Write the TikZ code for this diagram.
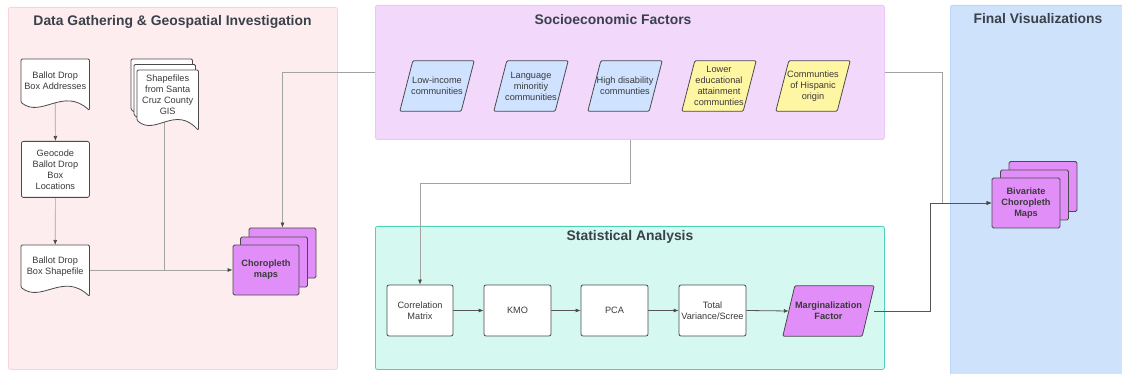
\documentclass[tikz,border=0pt]{standalone}
\usepackage{fontspec}
\setmainfont{Liberation Sans}
\usetikzlibrary{calc,arrows.meta}
\pgfdeclarelayer{bg}\pgfdeclarelayer{conn}\pgfdeclarelayer{mid}
\pgfsetlayers{bg,conn,mid,main}
\definecolor{pinkfill}{HTML}{FDEDEE}
\definecolor{pinkline}{HTML}{FAD2DC}
\definecolor{purfill}{HTML}{F2D8FB}
\definecolor{purline}{HTML}{EBC6F7}
\definecolor{tealfill}{HTML}{D5F8F0}
\definecolor{tealline}{HTML}{4CD2B9}
\definecolor{bluefill}{HTML}{CFE2FC}
\definecolor{blueline}{HTML}{BCD5F8}
\definecolor{parblue}{HTML}{CFE2FF}
\definecolor{paryel}{HTML}{FFF6A3}
\definecolor{cardc}{HTML}{E28EF8}
\definecolor{edgec}{HTML}{4A4A4A}
\definecolor{textc}{HTML}{3A3A3A}
\definecolor{titlec}{HTML}{3A414A}
\definecolor{lconn}{HTML}{A3A3A3}
\definecolor{dconn}{HTML}{555555}
\newcommand\mydoc[2]{\filldraw[docline] (#1.south west) -- (#1.north west) -- (#1.north east) -- ($(#1.south east)+(0,#2)$) .. controls ($(#1.south west)!0.62!(#1.south east)+(0,-16)$) and ($(#1.south west)!0.3!(#1.south east)+(0,16)$) .. (#1.south west) -- cycle;}
\newcommand\mypar[3]{\filldraw[docline, fill=#3] (#1.south west) -- ($(#1.north west)+(#2,0)$) -- (#1.north east) -- ($(#1.south east)+(-#2,0)$) -- cycle;}
\begin{document}
\begin{tikzpicture}[x=1pt,y=-1pt,
  panel/.style={rounded corners=2, line width=0.8, anchor=north west, inner sep=0},
  ptitle/.style={font=\fontsize{13.9}{16}\selectfont\bfseries, text=titlec, inner sep=0},
  txt/.style={font=\fontsize{9.2}{11}\selectfont, align=center, text=textc, inner sep=0},
  docline/.style={draw=edgec, fill=white, line width=0.8, rounded corners=1.2},
  box/.style={draw=edgec, fill=white, line width=0.8, rounded corners=2},
  card/.style={draw=edgec, fill=cardc, line width=0.8, rounded corners=1.5, inner sep=0},
  parnode/.style={txt, minimum width=74, minimum height=50},
  arr/.style={draw=lconn, line width=0.7, -{Latex[length=5,width=4,color=edgec]}},
  lline/.style={draw=lconn, line width=0.7},
  darr/.style={draw=dconn, line width=0.8, -{Latex[length=5,width=4,color=edgec]}}]
\useasboundingbox (0,0) rectangle (1122,374);
\clip (0,0) rectangle (1122,374);
% panels
\begin{pgfonlayer}{bg}
\node[panel, fill=pinkfill, draw=pinkline, minimum width=329, minimum height=362] (pdata) at (8,7) {};
\node[panel, fill=purfill, draw=purline, minimum width=509, minimum height=134] (socio) at (375,5) {};
\node[panel, fill=tealfill, draw=tealline, minimum width=509, minimum height=143] (stat) at (375,226) {};
\node[panel, fill=bluefill, draw=blueline, minimum width=220, minimum height=400] (final) at (950,5) {};
\end{pgfonlayer}
\node[ptitle] (tdata) at (172.5,22) {Data Gathering \& Geospatial Investigation};
\node[ptitle] (tsocio) at (613,20) {Socioeconomic Factors};
\node[ptitle] (tstat) at (630,237) {Statistical Analysis};
\node[ptitle] (tfinal) at (1038,19) {Final Visualizations};
% data gathering nodes
\node[txt, minimum width=68, minimum height=43, anchor=north west] (addr) at (21,59) {Ballot Drop\\Box Addresses};
\node[txt, box, minimum width=68, minimum height=56, anchor=north west] (geo) at (21,141) {Geocode\\Ballot Drop\\Box\\Locations};
\node[txt, minimum width=68, minimum height=42, anchor=north west] (sfile) at (21,245) {Ballot Drop\\Box Shapefile};
\node[minimum width=61, minimum height=50, inner sep=0, anchor=north west] (gis3) at (131,59) {};
\node[minimum width=61, minimum height=50, inner sep=0, anchor=north west] (gis2) at (134,64.5) {};
\node[txt, minimum width=61, minimum height=50, anchor=north west] (gis) at (137,70) {Shapefiles\\from Santa\\Cruz County\\GIS};
\begin{pgfonlayer}{mid}
\mydoc{addr}{8}
\mydoc{sfile}{9}
\mydoc{gis3}{10}
\mydoc{gis2}{10}
\mydoc{gis}{10}
\node[card, minimum width=67, minimum height=50] (chor3) at (282.5,253) {};
\node[card, minimum width=67, minimum height=50] (chor2) at (274,262) {};
\node[card, minimum width=68, minimum height=50] (biv3) at (1043,186.5) {};
\node[card, minimum width=68, minimum height=50] (biv2) at (1034.5,195) {};
\end{pgfonlayer}
\node[card, txt, font=\fontsize{9.2}{11}\selectfont\bfseries, minimum width=66, minimum height=50] (chor) at (266,270) {Choropleth\\maps};
\node[card, txt, font=\fontsize{9.2}{11}\selectfont\bfseries, minimum width=68, minimum height=50] (biv) at (1026,203) {Bivariate\\Choropleth\\Maps};
% socioeconomic factors
\node[parnode] (low) at (437,86) {Low-income\\communities};
\node[parnode] (lang) at (531,86) {Language\\minoritiy\\communities};
\node[parnode] (dis) at (625,86) {High disability\\communties};
\node[parnode] (edu) at (719,86) {Lower\\educational\\attainment\\communties};
\node[parnode] (hisp) at (813,86) {Communties\\of Hispanic\\origin};
\begin{pgfonlayer}{mid}
\mypar{low}{13}{parblue}
\mypar{lang}{13}{parblue}
\mypar{dis}{13}{parblue}
\mypar{edu}{13}{paryel}
\mypar{hisp}{13}{paryel}
\end{pgfonlayer}
% statistical analysis
\node[txt, box, minimum width=66, minimum height=51] (corr) at (420,310.5) {Correlation\\Matrix};
\node[txt, box, minimum width=67, minimum height=51] (kmo) at (517.5,310.5) {KMO};
\node[txt, box, minimum width=67, minimum height=51] (pca) at (614.5,310.5) {PCA};
\node[txt, box, minimum width=67, minimum height=51] (total) at (712.5,310.5) {Total\\Variance/Scree};
\node[txt, font=\fontsize{9.2}{11}\selectfont\bfseries, minimum width=91, minimum height=50] (marg) at (828.5,311) {Marginalization\\Factor};
\begin{pgfonlayer}{mid}
\mypar{marg}{12}{cardc}
\end{pgfonlayer}
% connectors
\coordinate (jn) at (164,270);
\coordinate (bj) at (942,203);
\coordinate (mj) at (930,203);
\begin{pgfonlayer}{conn}
\draw[arr] (addr.south) -- (geo.north);
\draw[arr] (geo.south) -- (sfile.north);
\draw[lline] (gis.south -| jn) -- (jn);
\draw[arr] (sfile.east |- chor.west) -- (chor.west);
\draw[arr] (socio.west) -| (chor3.north);
\draw[arr] (socio.south) -- ++(0,44) -| (corr.north);
\draw[arr] (socio.east) -| (bj) -- (biv.west);
\draw[darr] (corr.east) -- (kmo.west);
\draw[darr] (kmo.east) -- (pca.west);
\draw[darr] (pca.east) -- (total.west);
\draw[darr] (total.east) -- ($(marg.west)+(6,0)$);
\draw[darr] (marg.east) -| (mj) -- (biv.west);
\end{pgfonlayer}
\end{tikzpicture}
\end{document}
